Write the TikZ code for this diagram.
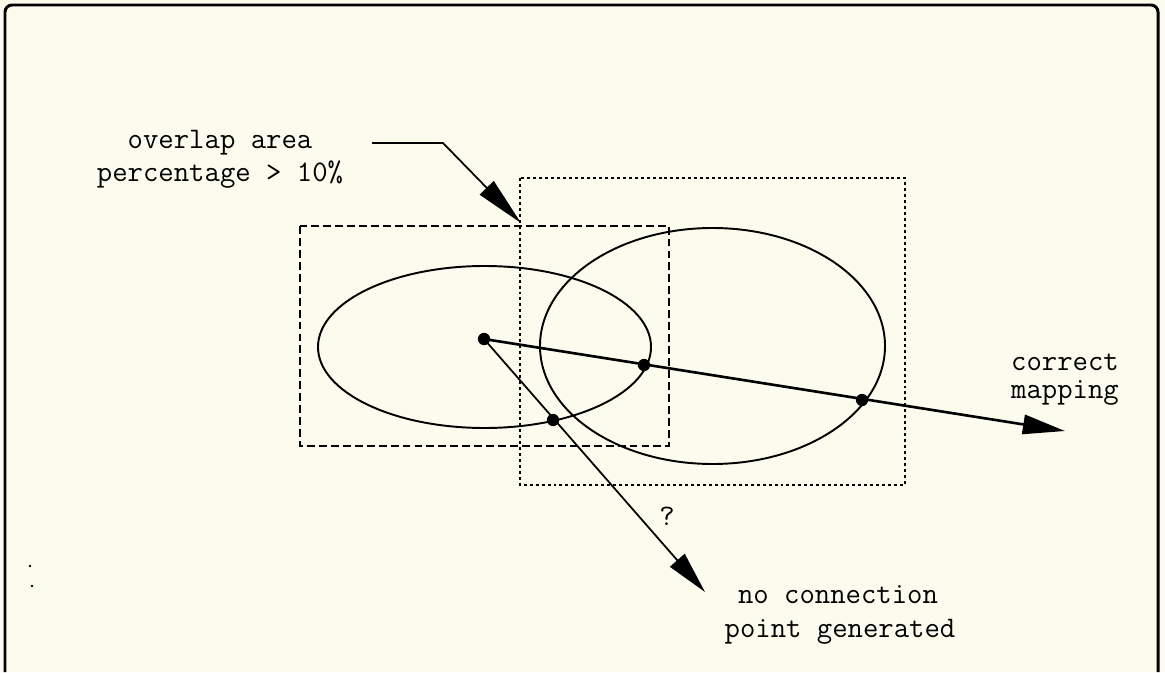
\documentclass[tikz,border=0pt]{standalone}
\usepackage{fontspec}
\usetikzlibrary{arrows.meta}
\definecolor{paper}{RGB}{252,252,238}
\tikzset{
  lbl/.style={font=\ttfamily\fontsize{17}{20}\selectfont},
  arr/.style={-{Triangle[length=24pt,width=11pt]},line width=1.2pt},
  hit/.style={fill,circle,inner sep=0pt,minimum size=7pt}
}
\begin{document}
\begin{tikzpicture}[x=0.02cm,y=-0.02cm]
\useasboundingbox[fill=paper] (0,0) rectangle (1165,672);
\draw[line width=1.7pt,rounded corners=4pt] (5,672) -- (5,5) -- (1158,5) -- (1158,672);
\fill (30,566) circle (1.3);
\fill (32,586) circle (1.3);
\draw[line width=1.3pt,dash pattern=on 4.5pt off 2.3pt] (300,226) rectangle (669,446);
\draw[line width=1.3pt,dash pattern=on 1.7pt off 1.7pt] (520,178) rectangle (905,485);
\draw[line width=1.1pt] (484.5,347) ellipse [x radius=166.5,y radius=81];
\draw[line width=1.1pt] (712.5,346) ellipse [x radius=172.5,y radius=118];
\node[hit] (ctr) at (484,339) {};
\node[hit] (hitA) at (644,365) {};
\node[hit] (hitB) at (862,400) {};
\node[hit] (hitC) at (553,420) {};
\coordinate (tipR) at (1065,431);
\coordinate (tipD) at (705,592);
\coordinate (tipL) at (521,223);
\coordinate (lead0) at (372,143);
\coordinate (lead1) at (443,143);
\draw[arr,line width=1.5pt] (ctr.center) -- (tipR);
\draw[arr,line width=1pt] (ctr.center) -- (tipD);
\draw[arr,line width=1pt,-{Triangle[length=28pt,width=11pt]}] (lead0) -- (lead1) -- (tipL);
\node[lbl] (ovl) at (220,143) {overlap area};
\node[lbl] (pct) at (220,175) {percentage > 10\%};
\node[lbl] (cor) at (1065,362) {correct};
\node[lbl] (map) at (1065,393) {mapping};
\node[lbl] (qq) at (667,516) {?};
\node[lbl] (noc) at (838,595) {no connection};
\node[lbl] (pgen) at (840,632) {point generated};
\end{tikzpicture}
\end{document}
